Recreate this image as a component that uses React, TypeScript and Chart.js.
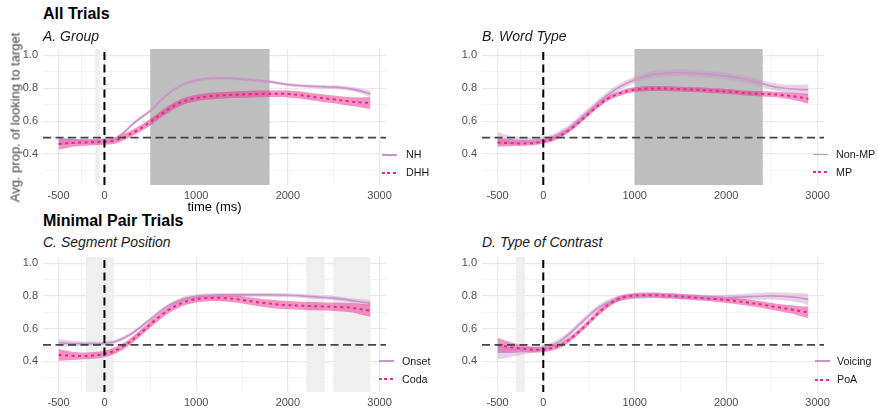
import React, { useEffect, useRef } from 'react';
import { Chart, registerables } from 'chart.js';
Chart.register(...registerables);

// ---------- data ----------
const timeMs = [-500, -400, -300, -200, -100, 0, 100, 200, 300, 400, 500, 600, 700, 800, 900, 1000, 1100, 1200, 1300, 1400, 1500, 1600, 1700, 1800, 1900, 2000, 2100, 2200, 2300, 2400, 2500, 2600, 2700, 2800, 2900];

const xMajorTicks = [-500, 0, 1000, 2000, 3000];
const xMinorTicks = [-250, 500, 1500, 2500];
const yMajorTicks = [0.4, 0.6, 0.8, 1.0];
const yMinorTicks = [0.3, 0.5, 0.7, 0.9];
const xLimits = [-670, 3070];
const yLimits = [0.2125, 1.0375];
const chanceLevel = 0.5;
const onsetTime = 0;

// A. Group
const nhMean = [0.482, 0.478, 0.475, 0.474, 0.474, 0.476, 0.49, 0.525, 0.578, 0.622, 0.662, 0.718, 0.768, 0.806, 0.832, 0.848, 0.856, 0.86, 0.861, 0.859, 0.855, 0.85, 0.845, 0.839, 0.83, 0.822, 0.816, 0.812, 0.81, 0.808, 0.806, 0.802, 0.794, 0.782, 0.765];
const nhHalf = [0.025, 0.018, 0.014, 0.012, 0.011, 0.01, 0.01, 0.01, 0.01, 0.01, 0.01, 0.01, 0.01, 0.01, 0.01, 0.01, 0.01, 0.01, 0.01, 0.01, 0.01, 0.01, 0.01, 0.01, 0.01, 0.01, 0.01, 0.01, 0.01, 0.011, 0.011, 0.012, 0.013, 0.016, 0.021];
const dhhMean = [0.461, 0.466, 0.469, 0.471, 0.473, 0.476, 0.48, 0.5, 0.527, 0.558, 0.594, 0.635, 0.673, 0.705, 0.727, 0.74, 0.748, 0.753, 0.757, 0.76, 0.762, 0.764, 0.765, 0.766, 0.766, 0.765, 0.76, 0.753, 0.745, 0.738, 0.732, 0.725, 0.718, 0.713, 0.71];
const dhhHalf = [0.034, 0.027, 0.022, 0.02, 0.019, 0.019, 0.019, 0.019, 0.019, 0.02, 0.02, 0.02, 0.02, 0.02, 0.02, 0.02, 0.02, 0.02, 0.02, 0.02, 0.02, 0.02, 0.02, 0.02, 0.02, 0.021, 0.022, 0.022, 0.022, 0.023, 0.024, 0.025, 0.027, 0.031, 0.036];
const groupDarkWindows = [[500, 1800]];
const groupLightWindows = [[-100, -50]];

// B. Word Type
const nonMpMean = [0.496, 0.488, 0.484, 0.482, 0.484, 0.49, 0.504, 0.531, 0.567, 0.614, 0.663, 0.712, 0.757, 0.796, 0.827, 0.851, 0.869, 0.882, 0.889, 0.893, 0.894, 0.892, 0.889, 0.885, 0.88, 0.873, 0.865, 0.855, 0.841, 0.827, 0.812, 0.802, 0.796, 0.792, 0.79];
const nonMpHalf = [0.038, 0.028, 0.021, 0.018, 0.016, 0.016, 0.017, 0.018, 0.019, 0.02, 0.02, 0.02, 0.02, 0.02, 0.02, 0.02, 0.02, 0.02, 0.02, 0.02, 0.02, 0.02, 0.02, 0.02, 0.02, 0.02, 0.02, 0.02, 0.02, 0.02, 0.021, 0.022, 0.024, 0.028, 0.035];
const mpMean = [0.471, 0.467, 0.465, 0.465, 0.467, 0.476, 0.49, 0.516, 0.553, 0.598, 0.647, 0.694, 0.735, 0.761, 0.78, 0.79, 0.796, 0.798, 0.798, 0.796, 0.794, 0.792, 0.79, 0.786, 0.784, 0.78, 0.776, 0.771, 0.767, 0.765, 0.763, 0.759, 0.753, 0.745, 0.735];
const mpHalf = [0.026, 0.02, 0.016, 0.014, 0.013, 0.013, 0.013, 0.014, 0.014, 0.015, 0.015, 0.015, 0.015, 0.015, 0.015, 0.015, 0.015, 0.015, 0.015, 0.015, 0.015, 0.015, 0.015, 0.015, 0.015, 0.015, 0.015, 0.015, 0.015, 0.016, 0.017, 0.018, 0.02, 0.024, 0.03];
const wordDarkWindows = [[1000, 2400]];
const wordLightWindows: number[][] = [];

// C. Segment Position
const onsetMean = [0.514, 0.51, 0.508, 0.508, 0.508, 0.51, 0.518, 0.539, 0.571, 0.612, 0.657, 0.702, 0.741, 0.769, 0.788, 0.798, 0.802, 0.804, 0.806, 0.806, 0.806, 0.806, 0.806, 0.806, 0.805, 0.804, 0.802, 0.798, 0.794, 0.79, 0.786, 0.78, 0.771, 0.763, 0.755];
const onsetHalf = [0.024, 0.018, 0.014, 0.012, 0.011, 0.011, 0.011, 0.012, 0.012, 0.012, 0.012, 0.012, 0.012, 0.012, 0.012, 0.012, 0.012, 0.012, 0.012, 0.012, 0.012, 0.012, 0.012, 0.012, 0.012, 0.012, 0.012, 0.012, 0.012, 0.012, 0.013, 0.013, 0.014, 0.016, 0.02];
const codaMean = [0.439, 0.435, 0.433, 0.433, 0.437, 0.445, 0.461, 0.49, 0.529, 0.576, 0.627, 0.673, 0.714, 0.745, 0.767, 0.78, 0.786, 0.788, 0.786, 0.782, 0.776, 0.767, 0.759, 0.753, 0.747, 0.743, 0.741, 0.739, 0.737, 0.735, 0.733, 0.731, 0.727, 0.718, 0.71];
const codaHalf = [0.036, 0.028, 0.023, 0.021, 0.02, 0.02, 0.02, 0.02, 0.02, 0.02, 0.02, 0.02, 0.02, 0.02, 0.02, 0.02, 0.02, 0.02, 0.02, 0.021, 0.022, 0.023, 0.024, 0.025, 0.025, 0.025, 0.025, 0.025, 0.025, 0.025, 0.026, 0.027, 0.029, 0.033, 0.038];
const segmentDarkWindows: number[][] = [];
const segmentLightWindows = [[-200, 100], [2200, 2400], [2500, 2900]];

// D. Type of Contrast
const voicingMean = [0.455, 0.455, 0.459, 0.465, 0.473, 0.484, 0.5, 0.53, 0.575, 0.628, 0.68, 0.725, 0.758, 0.78, 0.792, 0.796, 0.798, 0.8, 0.8, 0.8, 0.798, 0.796, 0.794, 0.792, 0.79, 0.79, 0.792, 0.794, 0.796, 0.798, 0.8, 0.798, 0.794, 0.788, 0.778];
const voicingHalf = [0.043, 0.034, 0.026, 0.021, 0.018, 0.016, 0.016, 0.017, 0.018, 0.019, 0.019, 0.019, 0.018, 0.017, 0.016, 0.015, 0.015, 0.015, 0.015, 0.015, 0.015, 0.015, 0.015, 0.015, 0.016, 0.017, 0.018, 0.019, 0.02, 0.021, 0.022, 0.023, 0.025, 0.029, 0.035];
const poaMean = [0.5, 0.49, 0.482, 0.476, 0.471, 0.471, 0.482, 0.502, 0.539, 0.586, 0.639, 0.694, 0.741, 0.776, 0.794, 0.802, 0.804, 0.804, 0.802, 0.8, 0.796, 0.792, 0.788, 0.784, 0.78, 0.775, 0.769, 0.762, 0.754, 0.746, 0.736, 0.727, 0.718, 0.708, 0.699];
const poaHalf = [0.044, 0.034, 0.026, 0.021, 0.018, 0.016, 0.016, 0.016, 0.016, 0.016, 0.016, 0.016, 0.016, 0.016, 0.016, 0.016, 0.016, 0.016, 0.016, 0.016, 0.016, 0.016, 0.016, 0.016, 0.017, 0.018, 0.018, 0.019, 0.019, 0.02, 0.021, 0.022, 0.025, 0.029, 0.036];
const contrastDarkWindows: number[][] = [];
const contrastLightWindows = [[-300, -200]];

// ---------- style ----------
const FONT = '"Liberation Sans", Arial, Helvetica, sans-serif';
const PURPLE = '#C994C7';
const PURPLE_BAND = 'rgba(201,148,199,0.42)';
const PINK = '#E7298A';
const PINK_BAND = 'rgba(231,41,138,0.5)';

const Y_W = 43, PAD_T = 6, PAD_R = 60, X_H = 26;

type Series = { label: string; mean: number[]; half: number[]; solid: boolean };
type Box = { l: number; t: number; r: number; b: number };

function Panel({ box, series, dark, light }: { box: Box; series: Series[]; dark: number[][]; light: number[][] }) {
  const ref = useRef<HTMLCanvasElement>(null);
  const w = box.r - box.l + Y_W + PAD_R;
  const h = box.b - box.t + PAD_T + X_H;
  useEffect(() => {
    const canvas = ref.current!;
    const overlay = {
      id: 'overlay',
      beforeDatasetsDraw(chart: any) {
        const { ctx, chartArea: a, scales } = chart;
        const x = scales.x;
        ctx.save();
        const fillWin = (win: number[], c: string) => {
          const x0 = x.getPixelForValue(win[0]);
          const x1 = x.getPixelForValue(win[1]);
          ctx.fillStyle = c;
          ctx.fillRect(x0, a.top, x1 - x0, a.bottom - a.top);
        };
        light.forEach((win) => fillWin(win, '#EFEFEF'));
        dark.forEach((win) => fillWin(win, '#BEBEBE'));
        ctx.restore();
      },
      afterDatasetsDraw(chart: any) {
        const { ctx, chartArea: a, scales } = chart;
        const y = scales.y.getPixelForValue(chanceLevel);
        const x0 = scales.x.getPixelForValue(onsetTime);
        ctx.save();
        ctx.lineWidth = 1.8;
        ctx.setLineDash([8, 4.5]);
        ctx.strokeStyle = '#444444';
        ctx.beginPath();
        ctx.moveTo(a.left, y);
        ctx.lineTo(a.right, y);
        ctx.stroke();
        ctx.strokeStyle = '#000000';
        ctx.lineWidth = 2;
        ctx.beginPath();
        ctx.moveTo(x0, a.top + 3);
        ctx.lineTo(x0, a.bottom);
        ctx.stroke();
        ctx.restore();
      },
    };
    const datasets: any[] = [];
    series.forEach((s, k) => {
      const bandColor = s.solid ? PURPLE_BAND : PINK_BAND;
      datasets.push({
        label: s.label + ' upper',
        data: timeMs.map((t, i) => ({ x: t, y: s.mean[i] + s.half[i] })),
        borderWidth: 0,
        pointRadius: 0,
        fill: false,
        cubicInterpolationMode: 'monotone',
        order: 10 - k,
      });
      datasets.push({
        label: s.label + ' lower',
        data: timeMs.map((t, i) => ({ x: t, y: s.mean[i] - s.half[i] })),
        borderWidth: 0,
        pointRadius: 0,
        fill: '-1',
        backgroundColor: bandColor,
        cubicInterpolationMode: 'monotone',
        order: 10 - k,
      });
    });
    series.forEach((s, k) => {
      datasets.push({
        label: s.label,
        data: timeMs.map((t, i) => ({ x: t, y: s.mean[i] })),
        borderColor: s.solid ? PURPLE : PINK,
        borderWidth: s.solid ? 1.6 : 2,
        borderDash: s.solid ? [] : [3, 3.5],
        pointRadius: 0,
        fill: false,
        cubicInterpolationMode: 'monotone',
        order: 5 - k,
      });
    });
    const xTicks = [...xMajorTicks, ...xMinorTicks].sort((a, b) => a - b);
    const yTicks = [...yMajorTicks, ...yMinorTicks].sort((a, b) => a - b);
    const isMajorX = (v: number) => xMajorTicks.includes(v);
    const isMajorY = (v: number) => yMajorTicks.some((m) => Math.abs(m - v) < 1e-9);
    const chart = new Chart(canvas, {
      type: 'line',
      data: { datasets },
      plugins: [overlay],
      options: {
        animation: false,
        responsive: false,
        maintainAspectRatio: false,
        devicePixelRatio: 1,
        layout: { padding: { left: 0, top: PAD_T, right: PAD_R, bottom: 0 } },
        plugins: { legend: { display: false }, tooltip: { enabled: false } },
        scales: {
          x: {
            type: 'linear',
            min: xLimits[0],
            max: xLimits[1],
            afterFit: (s: any) => {
              s.height = X_H;
              s.paddingLeft = 0;
              s.paddingRight = 0;
            },
            afterBuildTicks: (s: any) => { s.ticks = xTicks.map((v) => ({ value: v })); },
            border: { display: false },
            grid: {
              drawTicks: false,
              color: (c: any) => (isMajorX(c.tick?.value) ? '#E9E9E9' : '#F1F1F1'),
              lineWidth: (c: any) => (isMajorX(c.tick?.value) ? 1.2 : 0.8),
            },
            ticks: {
              autoSkip: false,
              maxRotation: 0,
              minRotation: 0,
              padding: 4,
              color: '#4D4D4D',
              font: { family: FONT, size: 11 },
              callback: (v: any) => (isMajorX(Number(v)) ? String(v) : ''),
            },
          },
          y: {
            type: 'linear',
            min: yLimits[0],
            max: yLimits[1],
            afterFit: (s: any) => {
              s.width = Y_W;
              s.paddingTop = 0;
              s.paddingBottom = 0;
            },
            afterBuildTicks: (s: any) => { s.ticks = yTicks.map((v) => ({ value: v })); },
            border: { display: false },
            grid: {
              drawTicks: false,
              color: (c: any) => (isMajorY(c.tick?.value) ? '#E9E9E9' : '#F1F1F1'),
              lineWidth: (c: any) => (isMajorY(c.tick?.value) ? 1.2 : 0.8),
            },
            ticks: {
              autoSkip: false,
              padding: 5,
              color: '#4D4D4D',
              font: { family: FONT, size: 11 },
              callback: (v: any) => (isMajorY(Number(v)) ? Number(v).toFixed(1) : ''),
            },
          },
        },
      } as any,
    });
    return () => chart.destroy();
  }, []);
  return (
    <canvas
      ref={ref}
      width={w}
      height={h}
      style={{ position: 'absolute', left: box.l - Y_W, top: box.t - PAD_T, width: w, height: h }}
    />
  );
}

function Txt({ x, baseline, size, children, style }: any) {
  return (
    <div
      style={{
        position: 'absolute',
        left: x,
        top: baseline - 0.8465 * size,
        fontSize: size,
        lineHeight: size + 'px',
        whiteSpace: 'nowrap',
        fontFamily: FONT,
        ...style,
      }}
    >
      {children}
    </div>
  );
}

function Legend({ x0, textX, ys, labels }: { x0: number; textX: number; ys: number[]; labels: string[] }) {
  return (
    <>
      <div style={{ position: 'absolute', left: x0, top: ys[0] - 0.8, width: 15, height: 1.6, background: PURPLE }} />
      <div
        style={{
          position: 'absolute',
          left: x0,
          top: ys[1] - 1,
          width: 15,
          height: 2,
          background: `repeating-linear-gradient(90deg, ${PINK} 0px, ${PINK} 3px, transparent 3px, transparent 5.5px)`,
        }}
      />
      {labels.map((lb, i) => (
        <div
          key={lb}
          style={{
            position: 'absolute',
            left: textX,
            top: ys[i] - 5.5,
            fontSize: 10.7,
            lineHeight: '11px',
            fontFamily: FONT,
            color: '#1A1A1A',
            whiteSpace: 'nowrap',
          }}
        >
          {lb}
        </div>
      ))}
    </>
  );
}

export default function App() {
  const boxA = { l: 43, t: 49, r: 386, b: 185 };
  const boxB = { l: 482, t: 49, r: 824, b: 185 };
  const boxC = { l: 43, t: 257, r: 386, b: 392 };
  const boxD = { l: 482, t: 257, r: 824, b: 392 };
  return (
    <div
      style={{
        position: 'fixed',
        left: 0,
        top: 0,
        width: 878,
        height: 411,
        overflow: 'hidden',
        background: '#FFFFFF',
        fontFamily: FONT,
      }}
    >
      <Panel
        box={boxA}
        dark={groupDarkWindows}
        light={groupLightWindows}
        series={[
          { label: 'NH', mean: nhMean, half: nhHalf, solid: true },
          { label: 'DHH', mean: dhhMean, half: dhhHalf, solid: false },
        ]}
      />
      <Panel
        box={boxB}
        dark={wordDarkWindows}
        light={wordLightWindows}
        series={[
          { label: 'Non-MP', mean: nonMpMean, half: nonMpHalf, solid: true },
          { label: 'MP', mean: mpMean, half: mpHalf, solid: false },
        ]}
      />
      <Panel
        box={boxC}
        dark={segmentDarkWindows}
        light={segmentLightWindows}
        series={[
          { label: 'Onset', mean: onsetMean, half: onsetHalf, solid: true },
          { label: 'Coda', mean: codaMean, half: codaHalf, solid: false },
        ]}
      />
      <Panel
        box={boxD}
        dark={contrastDarkWindows}
        light={contrastLightWindows}
        series={[
          { label: 'Voicing', mean: voicingMean, half: voicingHalf, solid: true },
          { label: 'PoA', mean: poaMean, half: poaHalf, solid: false },
        ]}
      />

      <Txt x={43} baseline={19.3} size={16} style={{ fontWeight: 'bold', color: '#000' }}>All Trials</Txt>
      <Txt x={43} baseline={40.7} size={14} style={{ fontStyle: 'italic', color: '#1A1A1A' }}>A. Group</Txt>
      <Txt x={482} baseline={40.7} size={14} style={{ fontStyle: 'italic', color: '#1A1A1A' }}>B. Word Type</Txt>
      <Txt x={43} baseline={227} size={16} style={{ fontWeight: 'bold', color: '#000' }}>Minimal Pair Trials</Txt>
      <Txt x={43} baseline={246.7} size={14} style={{ fontStyle: 'italic', color: '#1A1A1A' }}>C. Segment Position</Txt>
      <Txt x={482} baseline={246.7} size={14} style={{ fontStyle: 'italic', color: '#1A1A1A' }}>D. Type of Contrast</Txt>

      <div
        style={{
          position: 'absolute',
          left: 214.5 - 100,
          top: 211.5 - 0.8465 * 13,
          width: 200,
          textAlign: 'center',
          fontSize: 13,
          lineHeight: '13px',
          fontFamily: FONT,
          color: '#000',
        }}
      >
        time (ms)
      </div>
      <div
        style={{
          position: 'absolute',
          left: -95,
          top: 111,
          width: 220,
          height: 13,
          textAlign: 'center',
          fontSize: 13,
          lineHeight: '13px',
          fontFamily: FONT,
          fontWeight: 400,
          color: '#404040',
          whiteSpace: 'nowrap',
          transform: 'rotate(-90deg)',
          transformOrigin: 'center center',
        }}
      >
        Avg. prop. of looking to target
      </div>

      <Legend x0={382} textX={406} ys={[154.8, 172.8]} labels={['NH', 'DHH']} />
      <Legend x0={813} textX={836} ys={[154.3, 172.3]} labels={['Non-MP', 'MP']} />
      <Legend x0={379} textX={402} ys={[361, 379.3]} labels={['Onset', 'Coda']} />
      <Legend x0={815} textX={837} ys={[361, 379.8]} labels={['Voicing', 'PoA']} />
    </div>
  );
}
